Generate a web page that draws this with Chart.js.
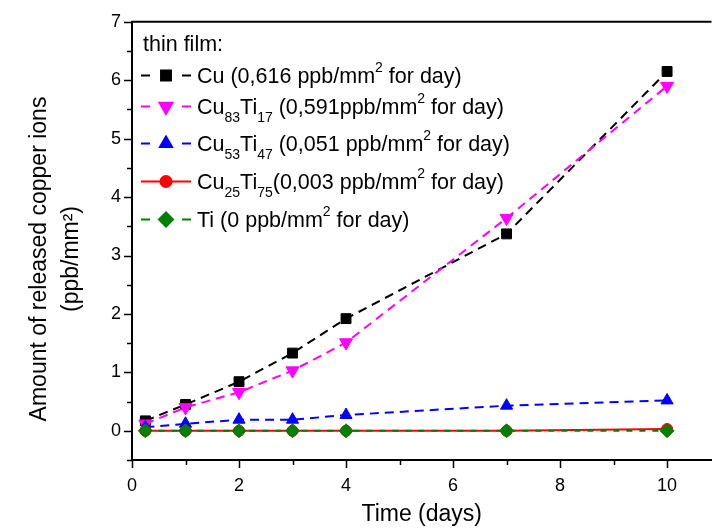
<!DOCTYPE html>
<html><head><meta charset="utf-8">
<script src="https://cdn.jsdelivr.net/npm/chart.js@4/dist/chart.umd.min.js"></script>
<style>html,body{margin:0;padding:0;background:#fff}#wrap{width:720px;height:528px;position:relative}</style>
</head><body><div id="wrap"><canvas id="c" width="720" height="528"></canvas></div>
<script>
// ---- data ----
const days = [0.25, 1, 2, 3, 4, 7, 10];
const cu = [0.17, 0.45, 0.84, 1.33, 1.92, 3.37, 6.15];
const cu83ti17 = [0.12, 0.40, 0.66, 1.03, 1.51, 3.64, 5.90];
const cu53ti47 = [0.06, 0.12, 0.19, 0.19, 0.27, 0.43, 0.52];
const cu25ti75 = [0, 0, 0, 0, 0, 0, 0.03];
const ti = [0, 0, 0, 0, 0, 0, 0];
const xTickValues = [0, 2, 4, 6, 8, 10];
const yTickValues = [0, 1, 2, 3, 4, 5, 6, 7];
const seriesNames = ['Cu', 'Cu83Ti17', 'Cu53Ti47', 'Cu25Ti75', 'Ti'];
const legendTitle = 'thin film:';
// legend text pieces: [text, kind] kind: n=normal, b=subscript, p=superscript
const legendTexts = [
  [['Cu (0,616 ppb/mm','n'],['2','p'],[' for day)','n']],
  [['Cu','n'],['83','b'],['Ti','n'],['17','b'],[' (0,591ppb/mm','n'],['2','p'],[' for day)','n']],
  [['Cu','n'],['53','b'],['Ti','n'],['47','b'],[' (0,051 ppb/mm','n'],['2','p'],[' for day)','n']],
  [['Cu','n'],['25','b'],['Ti','n'],['75','b'],['(0,003 ppb/mm','n'],['2','p'],[' for day)','n']],
  [['Ti (0 ppb/mm','n'],['2','p'],[' for day)','n']]
];
const xTitle = 'Time (days)';
const yTitle = ['Amount of released copper ions', '(ppb/mm\u00B2)'];

const FONT = "'Liberation Sans', Arial, sans-serif";
const colors = ['#000000', '#FF00FF', '#0000FF', '#FF0000', '#008000'];
const styles = ['rect', 'triangle', 'triangle', 'circle', 'rectRot'];
const rotations = [0, 180, 0, 0, 0];
const radii = [7, 7.5, 7, 5.5, 7];
const dashes = [[9, 6], [9, 6], [9, 6], [], [6, 7]];
const values = [cu, cu83ti17, cu53ti47, cu25ti75, ti];

const datasets = values.map((v, i) => ({
  label: seriesNames[i],
  data: days.map((d, j) => ({x: d, y: v[j]})),
  showLine: true,
  borderColor: colors[i],
  backgroundColor: colors[i],
  borderWidth: 2,
  borderDash: dashes[i],
  pointStyle: styles[i],
  rotation: rotations[i],
  pointRadius: radii[i],
  pointBorderWidth: 1,
  pointBorderColor: colors[i],
  pointBackgroundColor: colors[i],
  tension: 0,
  order: 4 - i
}));

function drawRich(ctx, x, baseline, pieces) {
  for (const [t, k] of pieces) {
    if (k === 'n') { ctx.font = '21.5px ' + FONT; ctx.fillText(t, x, baseline); }
    else if (k === 'b') { ctx.font = '14px ' + FONT; ctx.fillText(t, x, baseline + 7.5); }
    else { ctx.font = '14px ' + FONT; ctx.fillText(t, x, baseline - 11.5); }
    x += ctx.measureText(t).width;
  }
}

const decor = {
  id: 'decor',
  afterDraw(chart) {
    const ctx = chart.ctx, ca = chart.chartArea;
    const xs = chart.scales.x, ys = chart.scales.y;
    ctx.save();
    ctx.strokeStyle = '#000'; ctx.lineWidth = 2;
    // top frame line
    ctx.beginPath(); ctx.moveTo(ca.left - 1, ca.top); ctx.lineTo(ca.right, ca.top); ctx.stroke();
    // ticks
    ctx.lineWidth = 1.5;
    for (let v = 0; v <= 10; v++) {
      const px = Math.round(xs.getPixelForValue(v)) + 0.5;
      const len = v % 2 === 0 ? 8 : 5;
      ctx.beginPath(); ctx.moveTo(px, ca.bottom); ctx.lineTo(px, ca.bottom + len); ctx.stroke();
    }
    for (let v = -0.5; v <= 7; v += 0.5) {
      const py = Math.round(ys.getPixelForValue(v)) + 0.5;
      const len = Number.isInteger(v) ? 8 : 5;
      ctx.beginPath(); ctx.moveTo(ca.left, py); ctx.lineTo(ca.left - len, py); ctx.stroke();
    }
    // y title
    ctx.fillStyle = '#000';
    ctx.font = '23px ' + FONT;
    ctx.textAlign = 'center';
    ctx.textBaseline = 'middle';
    ctx.save();
    ctx.translate(40, 259); ctx.rotate(-Math.PI / 2);
    ctx.fillText(yTitle[0], 0, 0);
    ctx.fillText(yTitle[1], 0, 32);
    ctx.restore();
    // legend
    ctx.textBaseline = 'alphabetic';
    ctx.textAlign = 'left';
    ctx.font = '21.5px ' + FONT;
    ctx.fillText(legendTitle, 143, 51);
    const baselines = [83, 114, 151, 189, 227];
    legendTexts.forEach((pieces, i) => {
      const cy = baselines[i] - 7.5;
      ctx.strokeStyle = colors[i];
      ctx.lineWidth = 2;
      ctx.setLineDash([]);
      ctx.beginPath();
      if (dashes[i].length) {
        ctx.moveTo(141, cy); ctx.lineTo(150, cy);
        ctx.moveTo(182, cy); ctx.lineTo(191, cy);
      } else {
        ctx.moveTo(141, cy); ctx.lineTo(191, cy);
      }
      ctx.stroke();
      ctx.fillStyle = colors[i];
      Chart.helpers.drawPoint(ctx, {pointStyle: styles[i], rotation: rotations[i], radius: radii[i], borderWidth: 1}, 166, cy);
      ctx.fill();
      ctx.fillStyle = '#000';
      drawRich(ctx, 197, baselines[i], pieces);
    });
    ctx.restore();
  }
};

new Chart(document.getElementById('c'), {
  type: 'scatter',
  data: {datasets},
  options: {
    responsive: false,
    devicePixelRatio: 1,
    animation: false,
    layout: {padding: {top: 21, right: 0, bottom: 0, left: 0}},
    plugins: {legend: {display: false}, tooltip: {enabled: false}},
    scales: {
      x: {
        type: 'linear', min: 0, max: 10.83,
        afterBuildTicks: s => { s.ticks = xTickValues.map(v => ({value: v})); },
        afterFit: s => { s.height = 68; },
        grid: {display: false, drawTicks: false},
        border: {display: true, color: '#000', width: 2},
        ticks: {color: '#000', padding: 15, font: {family: FONT, size: 18}, maxRotation: 0},
        title: {display: true, text: xTitle, color: '#000', font: {family: FONT, size: 23}, padding: {top: 0, bottom: 0}}
      },
      y: {
        type: 'linear', min: -0.5, max: 7,
        afterBuildTicks: s => { s.ticks = yTickValues.map(v => ({value: v})); },
        afterFit: s => { s.width = 132; },
        grid: {display: false, drawTicks: false},
        border: {display: true, color: '#000', width: 2},
        ticks: {color: '#000', padding: 11, font: {family: FONT, size: 18}},
        title: {display: false}
      }
    }
  },
  plugins: [decor]
});
</script></body></html>
